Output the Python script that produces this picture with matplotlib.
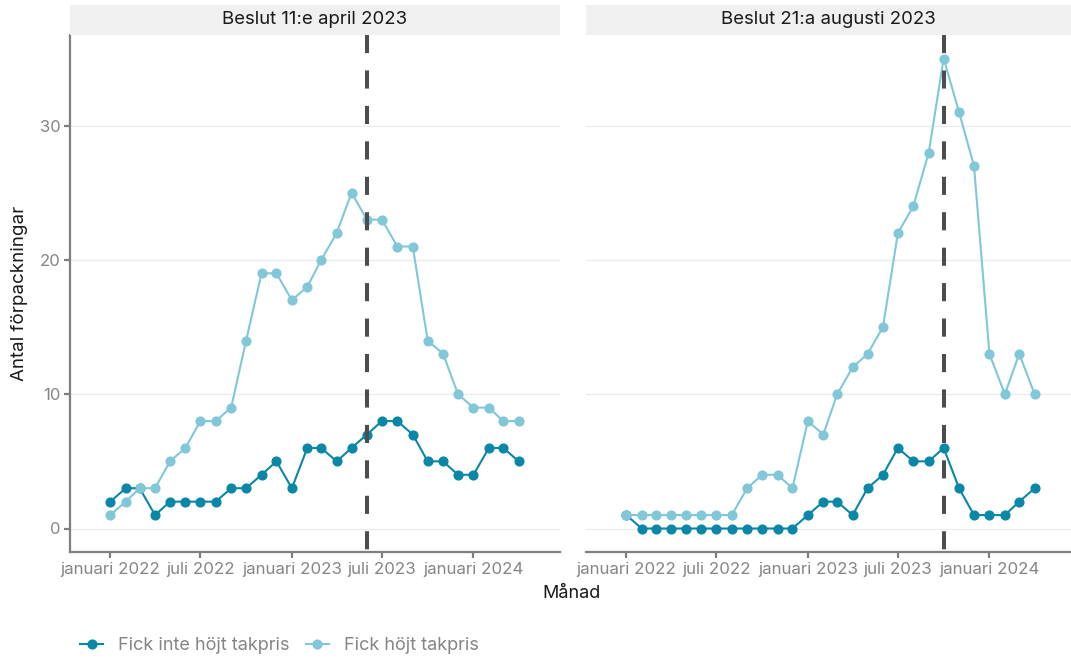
import numpy as np
import pandas as pd
import matplotlib
matplotlib.use("Agg")
import matplotlib.pyplot as plt
from matplotlib.lines import Line2D

plt.rcParams['font.family'] = ['Inter', 'DejaVu Sans']

months = pd.date_range("2022-01-01", "2024-04-01", freq="MS")

panels = ["Beslut 11:e april 2023", "Beslut 21:a augusti 2023"]
decision_lines = [pd.Timestamp("2023-06-01"), pd.Timestamp("2023-10-01")]

# panel 1
p1_not_raised = [2, 3, 3, 1, 2, 2, 2, 2, 3, 3, 4, 5, 3, 6, 6, 5, 6, 7, 8, 8, 7, 5, 5, 4, 4, 6, 6, 5]
p1_raised = [1, 2, 3, 3, 5, 6, 8, 8, 9, 14, 19, 19, 17, 18, 20, 22, 25, 23, 23, 21, 21, 14, 13, 10, 9, 9, 8, 8]
# panel 2
p2_not_raised = [1, 0, 0, 0, 0, 0, 0, 0, 0, 0, 0, 0, 1, 2, 2, 1, 3, 4, 6, 5, 5, 6, 3, 1, 1, 1, 2, 3]
p2_raised = [1, 1, 1, 1, 1, 1, 1, 1, 3, 4, 4, 3, 8, 7, 10, 12, 13, 15, 22, 24, 28, 35, 31, 27, 13, 10, 13, 10]

series_labels = ["Fick inte höjt takpris", "Fick höjt takpris"]
colors = ["#0a87a7", "#80c7d7"]

data = [(p1_not_raised, p1_raised), (p2_not_raised, p2_raised)]

W, H = 1071, 659
fig = plt.figure(figsize=(W / 100, H / 100), dpi=100)

ylo, yhi = -1.75, 36.75
start = pd.Timestamp("2022-01-01")
boxes = [(70, 560, start + pd.Timedelta(days=904)), (586, 1071, start + pd.Timedelta(days=894))]
top_px, bot_px = 35, 552
grey = "#7f7f7f"

for i, (x0, x1, xend) in enumerate(boxes):
    ax = fig.add_axes([x0 / W, 1 - bot_px / H, (x1 - x0) / W, (bot_px - top_px) / H])
    ax.set_xlim(start - pd.Timedelta(days=81), xend)
    ax.set_ylim(ylo, yhi)
    for y in [0, 10, 20, 30]:
        ax.axhline(y, color="#ebebeb", lw=0.9, zorder=0)
    for vals, c in zip(data[i], colors):
        ax.plot(months, vals, color=c, lw=1.5, marker="o", ms=6.3, zorder=3)
    d = decision_lines[i]
    ax.plot([d, d], [yhi, ylo], color="#4d4d4d", lw=2.9, dashes=(4.5, 4.3), zorder=4)

    for s in ["top", "right"]:
        ax.spines[s].set_visible(False)
    ax.spines["bottom"].set_color(grey)
    ax.spines["bottom"].set_linewidth(1.6)
    ax.spines["left"].set_color(grey)
    ax.spines["left"].set_linewidth(1.6)
    ticks = pd.to_datetime(["2022-01-01", "2022-07-01", "2023-01-01", "2023-07-01", "2024-01-01"])
    ax.set_xticks(ticks)
    ax.set_xticklabels(["januari 2022", "juli 2022", "januari 2023", "juli 2023", "januari 2024"])
    ax.tick_params(axis="x", colors=grey, labelcolor="#858585", labelsize=12.2, length=4, width=1.6, pad=3)
    ax.set_yticks([0, 10, 20, 30])
    if i == 0:
        ax.tick_params(axis="y", colors=grey, labelcolor="#858585", labelsize=12, length=4, width=1.6, pad=3)
        ax.set_ylabel("Antal förpackningar", fontsize=13.5, color="#1a1a1a", labelpad=8)
    else:
        ax.spines["left"].set_visible(False)
        ax.tick_params(axis="y", left=False, labelleft=False)

    # strip
    sax = fig.add_axes([x0 / W, 1 - 35 / H, (x1 - x0) / W, 30 / H])
    sax.set_facecolor("#f0f0f0")
    sax.set_xticks([])
    sax.set_yticks([])
    for s in sax.spines.values():
        s.set_visible(False)
    sax.text(0.5, 0.5, panels[i], ha="center", va="center", fontsize=13.4, color="#1a1a1a",
             transform=sax.transAxes)

fig.text(572 / W, 1 - 594 / H, "Månad", ha="center", va="center", fontsize=13, color="#1a1a1a")

handles = [Line2D([], [], color=c, lw=1.5, marker="o", ms=6.3) for c in colors]
leg = fig.legend(handles, series_labels, loc="center left", bbox_to_anchor=(80 / W, 1 - 646 / H),
                 ncol=2, frameon=False, fontsize=13, handlelength=1.3, columnspacing=0.9,
                 handletextpad=0.8, borderpad=0, borderaxespad=0)
for t in leg.get_texts():
    t.set_color("#858585")

fig.savefig("out.png", dpi=100)
